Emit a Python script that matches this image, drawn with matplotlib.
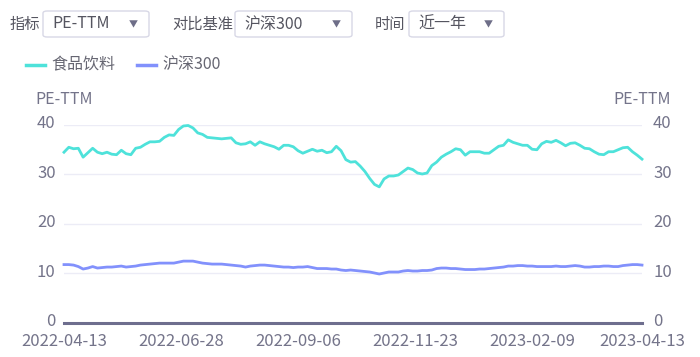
import matplotlib
matplotlib.use('Agg')
import matplotlib.pyplot as plt
from matplotlib.patches import FancyBboxPatch
from matplotlib.lines import Line2D
from matplotlib.transforms import ScaledTranslation
import numpy as np

plt.rcParams['font.family'] = ['Noto Sans CJK SC', 'DejaVu Sans']

# PE-TTM, sampled every 2 trading days from 2022-04-13 to 2023-04-13
food_bev = [
    34.4, 35.4, 35.1, 35.2, 33.4, 34.3, 35.2, 34.4, 34.1, 34.4,
    34.0, 33.9, 34.8, 34.1, 33.9, 35.2, 35.4, 36.0, 36.5, 36.5,
    36.6, 37.4, 37.9, 37.8, 39.0, 39.7, 39.8, 39.3, 38.3, 38.0,
    37.4, 37.3, 37.2, 37.1, 37.2, 37.3, 36.3, 36.0, 36.1, 36.5,
    35.8, 36.5, 36.1, 35.8, 35.5, 35.0, 35.8, 35.8, 35.5, 34.7,
    34.2, 34.6, 35.0, 34.6, 34.8, 34.3, 34.5, 35.6, 34.7, 32.9,
    32.4, 32.5, 31.6, 30.5, 29.1, 27.9, 27.4, 29.0, 29.6, 29.6,
    29.8, 30.5, 31.2, 30.9, 30.2, 30.0, 30.2, 31.7, 32.4, 33.4,
    34.0, 34.5, 35.1, 34.9, 33.8, 34.5, 34.5, 34.5, 34.2, 34.2,
    34.9, 35.6, 35.8, 36.9, 36.4, 36.1, 35.8, 35.8, 35.0, 34.9,
    36.1, 36.6, 36.4, 36.8, 36.3, 35.7, 36.2, 36.3, 35.8, 35.2,
    35.1, 34.5, 34.0, 33.9, 34.5, 34.5, 34.9, 35.3, 35.4, 34.5,
    33.8, 33.0,
]
hs300 = [
    11.7, 11.7, 11.6, 11.3, 10.8, 11.0, 11.3, 11.0, 11.1, 11.2,
    11.2, 11.3, 11.4, 11.2, 11.3, 11.4, 11.6, 11.7, 11.8, 11.9,
    12.0, 12.0, 12.0, 12.0, 12.2, 12.4, 12.4, 12.4, 12.2, 12.0,
    11.9, 11.8, 11.8, 11.8, 11.7, 11.6, 11.5, 11.4, 11.2, 11.4,
    11.5, 11.6, 11.6, 11.5, 11.4, 11.3, 11.2, 11.2, 11.1, 11.2,
    11.2, 11.3, 11.1, 10.9, 10.9, 10.9, 10.8, 10.8, 10.6, 10.5,
    10.6, 10.5, 10.4, 10.3, 10.2, 10.0, 9.8, 10.0, 10.2, 10.2,
    10.2, 10.4, 10.5, 10.4, 10.4, 10.5, 10.5, 10.6, 10.9, 11.0,
    11.0, 10.9, 10.9, 10.8, 10.7, 10.7, 10.7, 10.8, 10.8, 10.9,
    11.0, 11.1, 11.2, 11.4, 11.4, 11.5, 11.5, 11.4, 11.4, 11.3,
    11.3, 11.3, 11.3, 11.4, 11.3, 11.3, 11.4, 11.5, 11.4, 11.2,
    11.2, 11.3, 11.3, 11.4, 11.4, 11.3, 11.3, 11.5, 11.6, 11.7,
    11.7, 11.6,
]
day_step = 2
date_labels = ['2022-04-13', '2022-06-28', '2022-09-06', '2022-11-23', '2023-02-09', '2023-04-13']
date_idx = [0, 49, 98, 147, 196, 242]
yticks = [0, 10, 20, 30, 40]

series_names = ['食品饮料', '沪深300']
colors = ['#4ee2da', '#8291fc']
text_gray = '#74748a'

W, H = 700, 357
fig = plt.figure(figsize=(W / 100, H / 100), dpi=100)
fig.patch.set_facecolor('white')

def fx(px):
    return px / W

def fy(py):
    return 1 - py / H

ax = fig.add_axes([fx(64), fy(322.5), fx(642) - fx(64), fy(124.5) - fy(322.5)])
x = np.arange(len(food_bev)) * day_step
ax.plot(x, food_bev, color=colors[0], lw=2.0, solid_joinstyle='round', clip_on=False, zorder=3)
ax.plot(x, hs300, color=colors[1], lw=2.0, solid_joinstyle='round', clip_on=False, zorder=3)

ax.set_xlim(0, date_idx[-1])
ax.set_ylim(0, 40)
ax.set_yticks(yticks)
for t in yticks[1:]:
    ax.axhline(t, color='#ececf6', lw=1, zorder=1)
for s in ['top', 'right', 'left']:
    ax.spines[s].set_visible(False)
ax.spines['bottom'].set_color('#6e6e8e')
ax.spines['bottom'].set_linewidth(2.2)
ax.spines['bottom'].set_zorder(4)
ax.set_xticks(date_idx)
ax.set_xticklabels(date_labels)
ax.tick_params(axis='x', length=0, pad=7.5, labelsize=12, labelcolor=text_gray)
ax.tick_params(axis='y', length=0, pad=6, labelsize=12, labelcolor=text_gray)

ax2 = ax.twinx()
ax2.set_ylim(0, 40)
ax2.set_yticks(yticks)
for s in ['top', 'right', 'left', 'bottom']:
    ax2.spines[s].set_visible(False)
ax2.tick_params(axis='y', length=0, pad=8, labelsize=12, labelcolor=text_gray)

# nudge y labels up a little, as in the original
nudge = ScaledTranslation(0, 2 / 72, fig.dpi_scale_trans)
for lbl in ax.get_yticklabels() + ax2.get_yticklabels():
    lbl.set_transform(lbl.get_transform() + nudge)

fig.text(fx(64), fy(100), 'PE-TTM', ha='center', va='center', fontsize=11.5, color=text_gray)
fig.text(fx(642), fy(100), 'PE-TTM', ha='center', va='center', fontsize=11.5, color=text_gray)

# selector controls
controls = [('指标', 'PE-TTM', 10, 43, 149), ('对比基准', '沪深300', 172, 235, 352), ('时间', '近一年', 375, 409, 504)]
for label, value, lx, bx0, bx1 in controls:
    fig.text(fx(lx), fy(24), label, ha='left', va='center', fontsize=11, color='#555560')
    box = FancyBboxPatch((fx(bx0), fy(37)), fx(bx1 - bx0), fy(11) - fy(37),
                         boxstyle='round,pad=0,rounding_size=0.006', transform=fig.transFigure,
                         facecolor='white', edgecolor='#d8d8e6', lw=1)
    fig.add_artist(box)
    fig.text(fx(bx0 + 9), fy(24), value, ha='left', va='center', fontsize=11.5, color='#555560')
    fig.text(fx(bx1 - 16), fy(25), '▼', ha='center', va='center', fontsize=6.5, color='#6e6e88')

# legend
leg_pos = [(26, 51), (137, 162)]
for (lx, tx), name, c in zip(leg_pos, series_names, colors):
    fig.add_artist(Line2D([fx(lx), fx(lx + 19)], [fy(65), fy(65)], color=c, lw=2.5, transform=fig.transFigure))
    fig.text(fx(tx), fy(65), name, ha='left', va='center', fontsize=11.5, color='#666672')

fig.savefig('out.png', dpi=100, facecolor='white')
